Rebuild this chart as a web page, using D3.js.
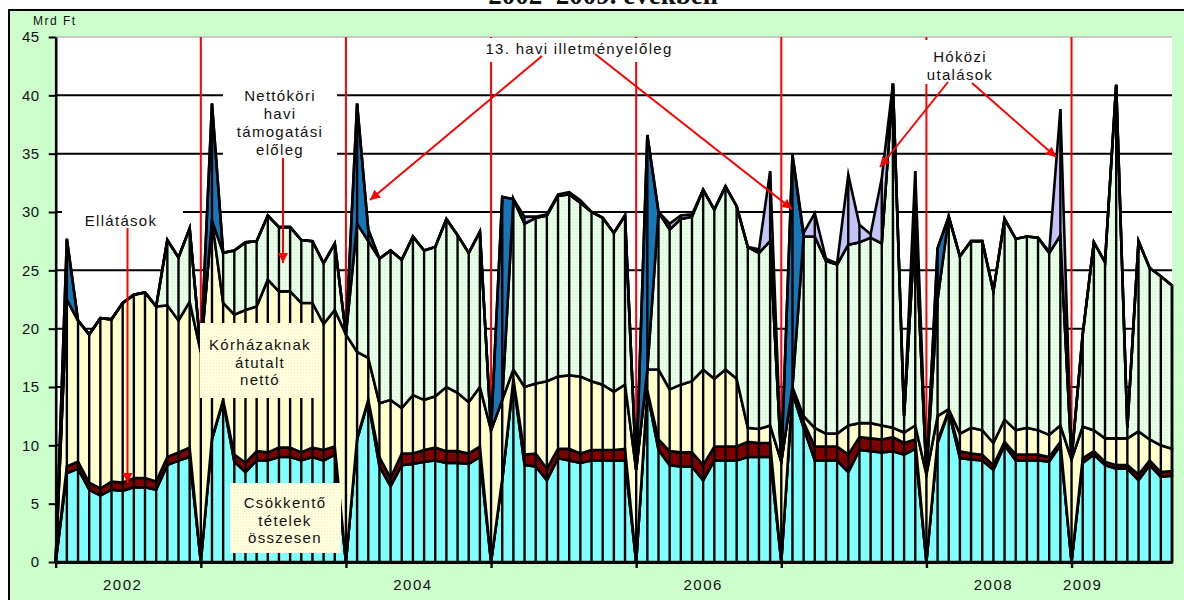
<!DOCTYPE html>
<html><head><meta charset="utf-8">
<script src="https://cdn.jsdelivr.net/npm/d3@7"></script>
<style>
body{margin:0;background:#fff}
svg{display:block}
text{font-family:"Liberation Sans",Arial,sans-serif;fill:#111}
</style>
</head><body>
<svg id="c" width="1184" height="600"></svg>
<script>
// ---- DATA (Mrd Ft), 101 categories: year separators (0,13,26,...) + months ----
const cyan=[0,7.6,8.0,6.2,5.7,6.2,6.1,6.4,6.4,6.2,8.3,8.7,9.0,
 0,10.5,13.8,8.6,7.7,8.7,8.7,9.0,9.0,8.7,9.0,8.7,9.2,
 0,10.5,13.8,8.2,6.5,8.3,8.4,8.6,8.7,8.5,8.5,8.4,9.0,
 0,7.0,15.5,8.3,8.2,7.0,8.9,8.7,8.5,8.7,8.7,8.7,8.7,
 0,14.5,9.6,8.3,8.2,8.2,7.0,8.7,8.7,8.7,9.0,9.0,9.0,
 0,14.5,11.5,8.7,8.7,8.7,7.7,9.6,9.5,9.4,9.5,9.2,9.7,
 0,10.2,12.9,8.9,8.8,8.7,7.9,10.0,8.7,8.7,8.7,8.6,10.0,
 0,8.5,9.2,8.3,8.0,8.0,7.0,8.3,7.3,7.4];
const red=[0,0.6,0.6,0.6,0.6,0.7,0.7,0.8,0.8,0.7,0.7,0.7,0.8,
 0,0.1,0.1,0.6,0.8,0.8,0.7,0.8,0.8,0.7,0.8,0.9,0.7,
 0,0.1,0.1,0.8,0.7,1.0,0.9,1.0,1.1,1.0,1.0,0.9,0.9,
 0,0.1,0.2,0.9,1.1,1.0,0.8,1.0,0.8,0.9,0.9,0.9,1.0,
 0,0.2,0.9,1.2,1.2,1.2,1.3,1.2,1.2,1.2,1.3,1.2,1.2,
 0,0.2,0.5,1.2,1.2,1.2,1.5,1.1,1.1,1.1,1.2,1.0,0.8,
 0,0.2,0.1,0.6,0.5,0.5,0.4,0.3,0.5,0.5,0.5,0.4,0.3,
 0,0.4,0.3,0.3,0.3,0.3,0.5,0.4,0.4,0.4];
const yellow=[0,14.3,12.1,12.7,14.6,13.9,15.4,15.7,15.9,15.0,13.0,11.3,12.5,
 18.0,18.7,8.3,12.0,13.1,12.4,14.8,13.4,13.4,12.8,12.4,10.8,11.7,
 19.5,7.4,3.6,4.6,6.7,3.9,5.0,4.3,4.4,5.5,5.0,4.4,5.1,
 11.3,6.8,0.8,5.8,6.0,7.5,6.2,6.3,6.6,5.9,5.6,5.0,5.5,
 7.9,1.8,6.0,5.3,5.8,6.1,8.2,5.8,6.6,5.8,1.2,1.2,1.5,
 8.6,0.3,0.5,1.6,1.1,1.1,2.5,1.2,1.3,1.2,0.8,0.9,1.2,
 7.5,2.1,0.1,1.5,2.2,2.1,1.9,1.9,2.1,2.3,2.1,1.9,1.4,
 8.8,2.7,1.8,2.0,2.3,2.3,3.7,1.8,2.3,1.9];
const green=[0,0,0,0,0,0,0,0,0,0,5.6,5.4,6.3,
 0,0,4.3,5.5,5.8,5.6,5.5,5.5,5.5,5.4,5.3,5.2,5.7,
 0,11.0,10.0,12.4,12.8,12.7,13.6,12.8,12.8,14.4,13.5,12.8,13.3,
 0,0,14.6,14.0,14.2,14.2,15.5,15.5,14.9,14.5,14.3,13.6,14.5,
 0,0,13.5,13.7,14.2,14.1,15.4,14.5,15.7,14.8,15.5,15.1,15.8,
 0,0,15.4,16.4,14.8,14.5,15.5,15.5,15.9,15.6,29.5,1.4,17.3,
 0,10.0,16.5,15.2,16.0,16.2,13.0,17.2,16.4,16.4,16.5,15.6,16.3,
 0,7.9,16.1,15.1,30.3,0.9,16.3,14.7,14.5,14.0];
const blue=[0,5.2,0,0,0,0,0,0,0,0,0,0,0,
 0,10.0,0,0,0,0,0,0,0,0,0,0,0,
 0,10.3,1.0,0,0,0,0,0,0,0,0,0,0,
 0,17.4,0,0,0,0,0,0,0,0,0,0,0,
 0,20.1,0,0,0,0,0,0,0,0,0,0,0,
 0,19.9,0,0,0,0,0,0,0,0,0,0,0,
 0,4.4,0,0,0,0,0,0,0,0,0,0,0,
 0,0,0,0,0,0,0,0,0,0];
const lavender=[0,0,0,0,0,0,0,0,0,0,0,0,0,
 0,0,0,0,0,0,0,0,0,0,0,0,0,
 0,0,0,0,0,0,0,0,0,0,0,0,0,
 0,0,0,0.6,0.1,0.1,0.1,0.2,0.2,0,0,0,0,
 0,0,0,0.5,0.3,0.2,0,0,0,0,0,0.3,6.0,
 0,0,0.3,2.0,0.2,0.1,6.0,1.5,0.3,5.6,0,0,4.5,
 0,0,0,0,0,0,0,0,0,0,0,0.1,10.8,
 0,0,0,0,0,0,0,0,0,0];
const yearBoundaries=[0,13,26,39,52,65,78,91];
const redLineIdx=[13,26,39,52,65,78,91];
const yearLabels=["2002","2004","2006","2008","2009"];
const yearLabelIdx=[6,32,58,84,92];
const yTicks=[0,5,10,15,20,25,30,35,40,45];

// ---- SETUP ----
const keys=["cyan","red","yellow","green","blue","lavender"];
const series={cyan,red,yellow,green,blue,lavender};
const fills={cyan:"#80FFFF",red:"#800000",yellow:"#FFFFCC",green:"url(#gpat)",blue:"#1776B8",lavender:"#C4C4F8"};
const rows=cyan.map((_,i)=>{const r={i};keys.forEach(k=>r[k]=series[k][i]);return r;});
const stacked=d3.stack().keys(keys)(rows);
const totals=rows.map(r=>keys.reduce((s,k)=>s+r[k],0));

const svg=d3.select("#c");
const x=d3.scaleLinear().domain([0,cyan.length-1]).range([55.7,1172]);
const y=d3.scaleLinear().domain([0,45]).range([562,37]);

const defs=svg.append("defs");
const gp=defs.append("pattern").attr("id","gpat").attr("width",3).attr("height",3).attr("patternUnits","userSpaceOnUse");
gp.append("rect").attr("width",3).attr("height",3).attr("fill","#E6FFE6");
gp.append("rect").attr("width",1).attr("height",1).attr("fill","#CCF2CC");
const yp=defs.append("pattern").attr("id","ypat").attr("width",3).attr("height",3).attr("patternUnits","userSpaceOnUse");
yp.append("rect").attr("width",3).attr("height",3).attr("fill","#FFFFDD");
yp.append("rect").attr("width",1).attr("height",1).attr("fill","#F2F2C8");
defs.append("marker").attr("id","arr").attr("viewBox","0 0 10 10").attr("refX",10).attr("refY",5)
  .attr("markerWidth",11).attr("markerHeight",10).attr("markerUnits","userSpaceOnUse").attr("orient","auto")
  .append("path").attr("d","M0,0L10,5L0,10Z").attr("fill","#FF0000");

// title (cut off at top)
svg.append("text").attr("x",603).attr("y",4).attr("text-anchor","middle")
  .style("font-family","'Liberation Serif','Times New Roman',serif").style("font-weight","bold").style("font-size","27px")
  .text("2002–2009. években");

// chart area
svg.append("rect").attr("x",9).attr("y",10).attr("width",1200).attr("height",620)
  .attr("fill","#CCFFCC").attr("stroke","#000").attr("stroke-width",2);
// plot area
svg.append("rect").attr("x",x(0)).attr("y",y(45)).attr("width",x(100)-x(0)).attr("height",y(0)-y(45)).attr("fill","#fff");
svg.append("line").attr("x1",x(0)).attr("x2",x(100)).attr("y1",y(45)).attr("y2",y(45)).attr("stroke","#BBB").attr("stroke-width",1.5);

// gridlines
svg.append("g").selectAll("line").data(yTicks.filter(v=>v>0&&v<45)).join("line")
  .attr("x1",x(0)).attr("x2",x(100)).attr("y1",d=>y(d)).attr("y2",d=>y(d))
  .attr("stroke","#000").attr("stroke-width",2);

// red year separator lines
svg.append("g").selectAll("line").data(redLineIdx).join("line")
  .attr("x1",d=>x(d)).attr("x2",d=>x(d)).attr("y1",y(0)).attr("y2",y(45))
  .attr("stroke","#FF0000").attr("stroke-width",2);

// stacked areas
const area=d3.area().x(d=>x(d.data.i)).y0(d=>y(d[0])).y1(d=>y(d[1]));
svg.append("g").selectAll("path").data(stacked).join("path")
  .attr("d",area).attr("fill",d=>fills[d.key])
  .attr("stroke","#000").attr("stroke-width",2.6).attr("stroke-linejoin","miter").attr("stroke-miterlimit",6);

// drop lines
svg.append("g").selectAll("line").data(rows.filter((r,i)=>totals[i]>0)).join("line")
  .attr("x1",d=>x(d.i)).attr("x2",d=>x(d.i)).attr("y1",y(0)).attr("y2",d=>y(totals[d.i]))
  .attr("stroke","#000").attr("stroke-width",2.4);

// y axis
const ya=svg.append("g").attr("transform",`translate(${x(0)},0)`)
  .call(d3.axisLeft(y).tickValues(yTicks).tickSize(7).tickSizeOuter(0).tickPadding(9));
ya.select(".domain").attr("stroke","#000").attr("stroke-width",2.6);
ya.selectAll(".tick line").attr("stroke","#000").attr("stroke-width",2);
ya.selectAll(".tick text").style("font-size","15px").style("letter-spacing","0.5px").attr("fill","#111");

// x axis
const xa=svg.append("g").attr("transform",`translate(0,${y(0)})`)
  .call(d3.axisBottom(x).tickValues(yearBoundaries).tickSize(6).tickSizeOuter(0).tickFormat(""));
xa.select(".domain").attr("stroke","#000").attr("stroke-width",2.8);
xa.selectAll(".tick line").attr("stroke","#000").attr("stroke-width",2.4);
svg.append("g").selectAll("text").data(yearLabels).join("text")
  .attr("x",(d,i)=>x(yearLabelIdx[i])).attr("y",590).attr("text-anchor","middle")
  .style("font-size","15px").style("letter-spacing","1.5px").text(d=>d);

svg.append("text").attr("x",33).attr("y",25).style("font-size","12px").style("letter-spacing","1.5px").text("Mrd Ft");

// ---- annotations ----
function box(x0,y0,x1,y1,fill){svg.append("rect").attr("x",x0).attr("y",y0).attr("width",x1-x0).attr("height",y1-y0).attr("fill",fill);}
function lines(cx,baselines,strs){strs.forEach((s,k)=>svg.append("text").attr("x",cx).attr("y",baselines[k])
  .attr("text-anchor","middle").style("font-size","15px").style("letter-spacing","1.3px").text(s));}
function arrow(x1,y1,x2,y2){svg.append("line").attr("x1",x1).attr("y1",y1).attr("x2",x2).attr("y2",y2)
  .attr("stroke","#FF0000").attr("stroke-width",2).attr("marker-end","url(#arr)");}

box(223,80,337,160,"#fff");
lines(280,[101,119,137,155],["Nettóköri","havi","támogatási","előleg"]);
arrow(283,158,283,263);

box(62,205,183,232,"#fff");
lines(121,[226],["Ellátások"]);
arrow(127.5,228,127.5,483);

box(477,38,682,62,"#fff");
lines(579,[54],["13. havi illetményelőleg"]);
arrow(542,56,370,200);
arrow(595,54,792,209);

box(916,40,1002,84,"#fff");
lines(960,[62,80],["Hóközi","utalások"]);
arrow(948,82,880,167);
arrow(972,83,1056,157);

box(200,323,322,398,"url(#ypat)");
lines(260,[350,368,385],["Kórházaknak","átutalt","nettó"]);

box(230,483,341,553,"url(#ypat)");
lines(285,[508,526,543],["Csökkentő","tételek","összesen"]);
</script>
</body></html>
